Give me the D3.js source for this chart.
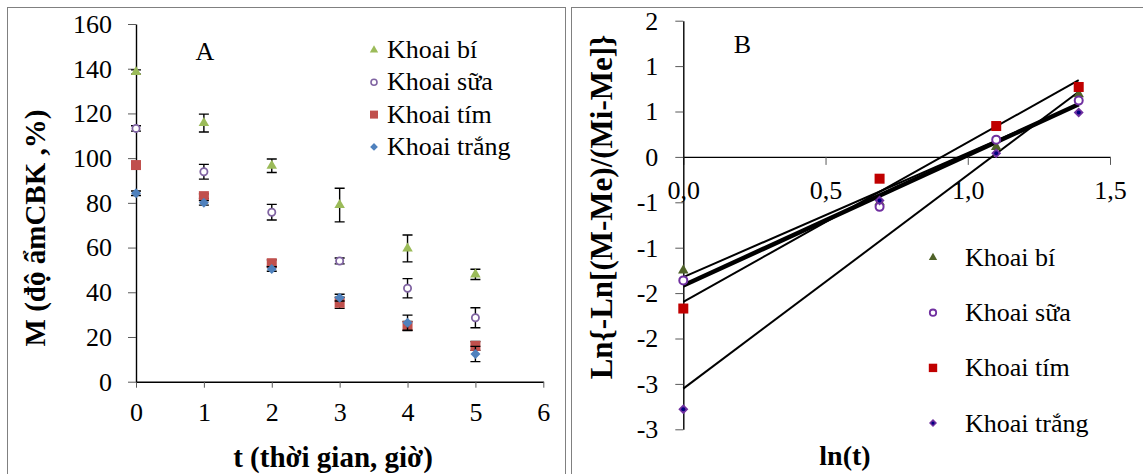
<!DOCTYPE html>
<html>
<head>
<meta charset="utf-8">
<script src="https://cdn.jsdelivr.net/npm/d3@7"></script>
<style>
  body { margin: 0; background: #fff; }
  svg { display: block; }
</style>
</head>
<body>
<svg id="chart"></svg>
<script>
const WIDTH = 1143;
const HEIGHT = 474;
const FONT = "'Liberation Serif', 'Times New Roman', Tinos, 'DejaVu Serif', serif";

const seriesNames = ['Khoai bí', 'Khoai sữa', 'Khoai tím', 'Khoai trắng'];

// Panel A: moisture content vs drying time
const hours = [0, 1, 2, 3, 4, 5];
const moistureBi = [138.5, 115.7, 96.6, 79, 59.6, 48];
const moistureSua = [113.3, 93.9, 75.8, 54, 41.8, 28.6];
const moistureTim = [96.9, 83, 53, 35.3, 24.9, 16];
const moistureTrang = [84.3, 80, 50.4, 37.6, 26.4, 12.4];
const errBi = [1, 4, 3, 7.5, 6, 2.3];
const errSua = [1.2, 3.3, 3.5, 1.3, 4.3, 4.5];
const errTim = [1, 1, 1.5, 2.5, 2, 2];
const errTrang = [1, 1, 1, 1.5, 3.4, 3.4];
const xTicksA = [0, 1, 2, 3, 4, 5, 6];
const yTicksA = [0, 20, 40, 60, 80, 100, 120, 140, 160];

// Panel B: Page model linearisation
const lnT = [0, 0.69, 1.1, 1.39];
const lnBi = [-1.25, -0.5, 0.11, 0.69];
const lnSua = [-1.36, -0.55, 0.19, 0.62];
const lnTim = [-1.67, -0.24, 0.34, 0.77];
const lnTrang = [-2.78, -0.48, 0.04, 0.49];
const xTicksB = [0, 0.5, 1, 1.5];
const xTickLabelsB = ['0,0', '0,5', '1,0', '1,5'];
const yTicksB = [1.5, 1, 0.5, 0, -0.5, -1, -1.5, -2, -2.5, -3];
const yTickLabelsB = ['2', '1', '1', '0', '-1', '-1', '-2', '-2', '-3', '-3'];

const svg = d3
  .select('#chart')
  .attr('width', WIDTH)
  .attr('height', HEIGHT)
  .attr('viewBox', `0 0 ${WIDTH} ${HEIGHT}`)
  .attr('font-family', FONT);

svg.append('rect').attr('width', WIDTH).attr('height', HEIGHT).attr('fill', '#fff');

// Panel frames (bottom edges fall outside the picture).
svg.append('rect')
  .attr('x', 7.5).attr('y', 7.5).attr('width', 558).attr('height', 500)
  .attr('fill', 'none').attr('stroke', '#808080');
svg.append('rect')
  .attr('x', 571.5).attr('y', 7.5).attr('width', 600).attr('height', 500)
  .attr('fill', 'none').attr('stroke', '#808080');

function styleAxis(g) {
  g.attr('font-size', 26).attr('font-family', FONT);
  g.select('.domain').attr('stroke', '#000').attr('stroke-width', 1.4);
  g.selectAll('.tick line').attr('stroke', '#595959');
  g.selectAll('.tick text').attr('fill', '#000');
}

// Marker drawing helper.
function drawMarker(g, kind, x, y, s) {
  if (kind === 'triangle') {
    g.append('path')
      .attr('d', d3.symbol(d3.symbolTriangle, s.area)())
      .attr('transform', `translate(${x},${y})`)
      .attr('fill', s.fill);
  } else if (kind === 'circle') {
    g.append('circle')
      .attr('cx', x).attr('cy', y).attr('r', s.r)
      .attr('fill', '#fff').attr('stroke', s.stroke).attr('stroke-width', s.sw);
  } else if (kind === 'square') {
    g.append('rect')
      .attr('x', x - s.half).attr('y', y - s.half)
      .attr('width', s.half * 2).attr('height', s.half * 2)
      .attr('fill', s.fill);
  } else {
    g.append('path')
      .attr('d', d3.symbol(d3.symbolSquare, s.area)())
      .attr('transform', `translate(${x},${y}) rotate(45)`)
      .attr('fill', s.fill);
    if (s.dot) {
      g.append('circle').attr('cx', x).attr('cy', y).attr('r', s.dotR).attr('fill', s.dot);
    }
  }
}

// ---------- Panel A ----------
const xA = d3.scaleLinear([0, 6], [136, 543.3]);
const yA = d3.scaleLinear([0, 160], [381.7, 24]);

svg.append('g')
  .attr('transform', `translate(0,${yA(0)})`)
  .call(d3.axisBottom(xA).tickValues(xTicksA).tickFormat(d3.format('d'))
    .tickSize(6).tickSizeOuter(0).tickPadding(15))
  .call(styleAxis);
svg.append('g')
  .attr('transform', `translate(${xA(0)},0)`)
  .call(d3.axisLeft(yA).tickValues(yTicksA).tickFormat(d3.format('d'))
    .tickSize(8).tickSizeOuter(0).tickPadding(16))
  .call(styleAxis);

const seriesA = [
  {values: moistureBi, err: errBi, kind: 'triangle', style: {fill: '#9BBB59', area: 48}, legend: {fill: '#9BBB59', area: 30}},
  {values: moistureSua, err: errSua, kind: 'circle', style: {stroke: '#8064A2', r: 3.6, sw: 1.8}, legend: {stroke: '#8064A2', r: 3, sw: 1.6}},
  {values: moistureTim, err: errTim, kind: 'square', style: {fill: '#C0504D', half: 5}, legend: {fill: '#C0504D', half: 4}},
  {values: moistureTrang, err: errTrang, kind: 'diamond', style: {fill: '#4F81BD', area: 50}, legend: {fill: '#4F81BD', area: 30}}
];

const plotA = svg.append('g');
seriesA.forEach(s => {
  const g = plotA.append('g');
  hours.forEach((t, i) => {
    const x = xA(t);
    const y1 = yA(s.values[i] + s.err[i]);
    const y2 = yA(s.values[i] - s.err[i]);
    g.append('path')
      .attr('d', `M${x},${y1}V${y2}M${x - 5},${y1}H${x + 5}M${x - 5},${y2}H${x + 5}`)
      .attr('stroke', '#000').attr('stroke-width', 1.4).attr('fill', 'none');
  });
  hours.forEach((t, i) => drawMarker(g, s.kind, xA(t), yA(s.values[i]), s.style));
});

svg.append('text')
  .attr('x', 205).attr('y', 60)
  .attr('text-anchor', 'middle').attr('font-size', 26)
  .text('A');

const legendA = svg.append('g');
seriesA.forEach((s, i) => {
  const base = 58 + i * 32.3;
  drawMarker(legendA, s.kind, 374, base - 8, s.legend);
  legendA.append('text').attr('x', 387).attr('y', base).attr('font-size', 26).text(seriesNames[i]);
});

svg.append('text')
  .attr('x', 333).attr('y', 467)
  .attr('text-anchor', 'middle').attr('font-size', 29).attr('font-weight', 'bold')
  .text('t (thời gian, giờ)');
svg.append('text')
  .attr('transform', 'translate(45,228) rotate(-90)')
  .attr('text-anchor', 'middle').attr('font-size', 29).attr('font-weight', 'bold')
  .text('M (độ ẩmCBK ,%)');

// ---------- Panel B ----------
const xB = d3.scaleLinear([0, 1.5], [683.3, 1110]);
const yB = d3.scaleLinear([-3, 1.5], [429.3, 20.7]);

svg.append('g')
  .attr('transform', `translate(0,${yB(0)})`)
  .call(d3.axisBottom(xB).tickValues(xTicksB).tickSize(8).tickSizeOuter(0).tickPadding(15.5)
    .tickFormat((d, i) => xTickLabelsB[i]))
  .call(styleAxis);
svg.append('g')
  .attr('transform', `translate(${xB(0)},0)`)
  .call(d3.axisLeft(yB).tickValues(yTicksB).tickSize(8).tickSizeOuter(0).tickPadding(17)
    .tickFormat((d, i) => yTickLabelsB[i]))
  .call(styleAxis);

function fitLine(xs, ys) {
  const mx = d3.mean(xs);
  const my = d3.mean(ys);
  const sxy = d3.sum(xs, (x, i) => (x - mx) * (ys[i] - my));
  const sxx = d3.sum(xs, x => (x - mx) * (x - mx));
  const slope = sxy / sxx;
  return {slope, intercept: my - slope * mx};
}

const seriesB = [
  {values: lnBi, kind: 'triangle', lineWidth: 2, style: {fill: '#4F6228', area: 48}, legend: {fill: '#4F6228', area: 30}},
  {values: lnSua, kind: 'circle', lineWidth: 4.5, style: {stroke: '#7030A0', r: 4, sw: 2}, legend: {stroke: '#7030A0', r: 3.2, sw: 1.8}},
  {values: lnTim, kind: 'square', lineWidth: 2, style: {fill: '#C00000', half: 5}, legend: {fill: '#C00000', half: 4.2}},
  {values: lnTrang, kind: 'diamond', lineWidth: 2, style: {fill: '#7030A0', area: 50, dot: '#000080', dotR: 2}, legend: {fill: '#7030A0', area: 32, dot: '#000080', dotR: 1.6}}
];

// Linear trendlines, from the first to the last ln(t).
const xEnd = d3.max(lnT);
const trend = svg.append('g');
seriesB.forEach(s => {
  const f = fitLine(lnT, s.values);
  trend.append('line')
    .attr('x1', xB(0)).attr('y1', yB(f.intercept))
    .attr('x2', xB(xEnd)).attr('y2', yB(f.intercept + f.slope * xEnd))
    .attr('stroke', '#000').attr('stroke-width', s.lineWidth);
});

const plotB = svg.append('g');
seriesB.forEach(s => {
  lnT.forEach((x, i) => drawMarker(plotB, s.kind, xB(x), yB(s.values[i]), s.style));
});

svg.append('text')
  .attr('x', 742.5).attr('y', 53)
  .attr('text-anchor', 'middle').attr('font-size', 26)
  .text('B');

const legendB = svg.append('g');
seriesB.forEach((s, i) => {
  const base = 266 + i * 55.2;
  drawMarker(legendB, s.kind, 933, base - 8.5, s.legend);
  legendB.append('text').attr('x', 965).attr('y', base).attr('font-size', 26).text(seriesNames[i]);
});

svg.append('text')
  .attr('x', 845).attr('y', 465)
  .attr('text-anchor', 'middle').attr('font-size', 28).attr('font-weight', 'bold')
  .text('ln(t)');
svg.append('text')
  .attr('transform', 'translate(612,207) rotate(-90)')
  .attr('text-anchor', 'middle').attr('font-size', 31).attr('font-weight', 'bold')
  .text('Ln{-Ln[(M-Me)/(Mi-Me]}');
</script>
</body>
</html>
